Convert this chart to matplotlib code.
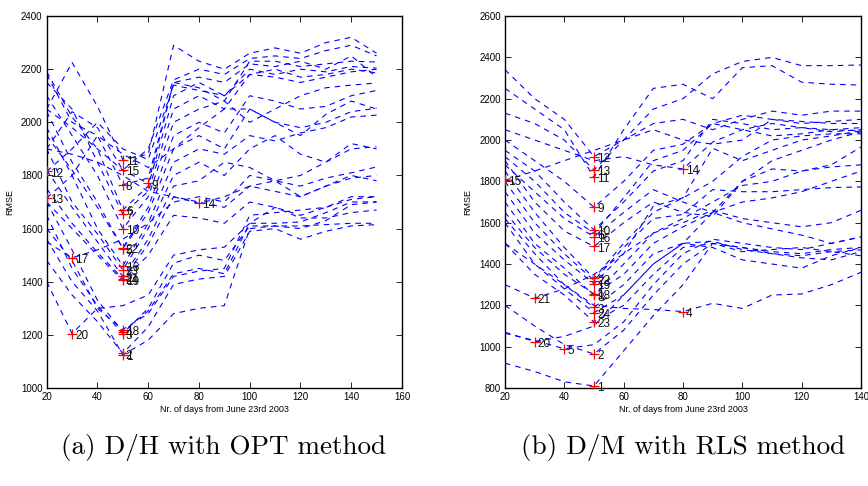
import matplotlib
matplotlib.use("Agg")
import matplotlib.pyplot as plt
import numpy as np

# ---------------- data: panel (a) D/H with OPT method ----------------
days_a = [20, 30, 40, 50, 60, 70, 80, 90, 100, 110, 120, 130, 140, 150]
series_a = {
    1:  [1560, 1400, 1290, 1125, 1180, 1280, 1300, 1310, 1600, 1610, 1610, 1615, 1620, 1620],
    2:  [1480, 1350, 1250, 1130, 1230, 1390, 1410, 1420, 1590, 1600, 1560, 1590, 1610, 1615],
    3:  [1650, 1450, 1310, 1205, 1300, 1470, 1500, 1480, 1610, 1610, 1600, 1630, 1690, 1700],
    4:  [1700, 1520, 1330, 1212, 1290, 1430, 1450, 1430, 1620, 1620, 1625, 1660, 1700, 1701],
    5:  [2040, 1850, 1700, 1525, 1660, 1900, 1950, 1900, 2050, 2000, 1980, 2000, 2040, 2053],
    6:  [2190, 2020, 1900, 1670, 1760, 2100, 2150, 2100, 2200, 2180, 2200, 2190, 2210, 2204],
    7:  [2150, 2050, 1850, 1655, 1740, 2050, 2100, 2050, 2180, 2200, 2170, 2180, 2200, 2186],
    8:  [2180, 2000, 1950, 1765, 1790, 2150, 2130, 2080, 2230, 2230, 2210, 2220, 2230, 2227],
    9:  [2050, 1980, 1900, 1820, 1770, 2150, 2170, 2150, 2220, 2210, 2230, 2200, 2250, 2170],
    10: [2100, 1950, 1800, 1600, 1720, 2000, 2050, 2080, 2000, 2050, 2100, 2130, 2140, 2148],
    11: [2050, 2225, 2060, 1860, 1880, 2290, 2230, 2200, 2260, 2280, 2260, 2300, 2320, 2260],
    12: [1815, 1900, 2000, 1900, 1860, 2140, 2120, 2100, 2180, 2170, 2150, 2170, 2190, 2200],
    13: [1715, 1800, 1950, 1880, 1830, 1900, 1980, 2050, 2050, 2000, 1950, 2030, 2080, 2050],
    14: [1900, 1880, 1850, 1800, 1740, 1720, 1695, 1720, 1760, 1740, 1720, 1760, 1790, 1800],
    15: [1900, 2040, 1980, 1820, 1900, 2160, 2200, 2180, 2240, 2250, 2240, 2270, 2290, 2250],
    16: [1980, 1800, 1600, 1460, 1620, 1850, 1900, 1880, 1950, 1930, 1960, 1980, 2020, 2027],
    17: [1550, 1490, 1520, 1560, 1620, 1700, 1720, 1700, 1800, 1780, 1760, 1790, 1810, 1832],
    18: [1600, 1480, 1300, 1220, 1280, 1420, 1440, 1450, 1650, 1660, 1670, 1680, 1710, 1720],
    19: [1700, 1600, 1500, 1405, 1500, 1650, 1640, 1620, 1700, 1680, 1650, 1680, 1720, 1720],
    20: [1400, 1205, 1300, 1310, 1350, 1500, 1520, 1530, 1620, 1680, 1640, 1640, 1660, 1670],
    21: [1820, 1680, 1550, 1420, 1560, 1760, 1780, 1850, 1830, 1780, 1800, 1850, 1900, 1908],
    22: [1950, 1820, 1680, 1527, 1680, 1950, 2000, 1960, 2100, 2080, 2050, 2060, 2100, 2120],
    23: [1900, 1700, 1580, 1445, 1600, 1800, 1850, 1800, 1900, 1950, 1880, 1850, 1920, 1900],
    24: [1750, 1620, 1510, 1412, 1540, 1720, 1700, 1680, 1760, 1780, 1720, 1760, 1800, 1780],
}

# ---------------- data: panel (b) D/M with RLS method ----------------
days_b = [20, 30, 40, 50, 60, 70, 80, 90, 100, 110, 120, 130, 140]
series_b = {
    1:  [920, 880, 830, 810, 980, 1150, 1300, 1500, 1460, 1470, 1480, 1460, 1440],
    2:  [1200, 1100, 1010, 965, 1080, 1250, 1400, 1500, 1480, 1450, 1440, 1460, 1468],
    3:  [1620, 1450, 1300, 1190, 1300, 1450, 1500, 1650, 1600, 1570, 1540, 1500, 1531],
    4:  [1500, 1400, 1300, 1200, 1185, 1180, 1170, 1210, 1185, 1250, 1255, 1300, 1360],
    5:  [1065, 1030, 990, 1010, 1120, 1300, 1450, 1520, 1500, 1480, 1470, 1500, 1531],
    6:  [1920, 1800, 1650, 1548, 1720, 1900, 1950, 2080, 2050, 2020, 2030, 2050, 2045],
    7:  [1800, 1600, 1450, 1320, 1480, 1620, 1640, 1760, 1750, 1750, 1760, 1770, 1773],
    8:  [1700, 1500, 1380, 1248, 1400, 1550, 1620, 1700, 1780, 1800, 1850, 1870, 1880],
    9:  [2000, 1900, 1800, 1675, 1800, 1950, 1980, 2080, 2120, 2100, 2090, 2080, 2080],
    10: [1950, 1850, 1700, 1565, 1700, 1850, 1900, 2100, 2080, 2050, 2060, 2040, 2050],
    11: [2250, 2150, 2050, 1820, 2050, 2250, 2270, 2200, 2350, 2360, 2280, 2270, 2266],
    12: [2340, 2200, 2100, 1920, 2000, 2150, 2200, 2320, 2380, 2400, 2360, 2360, 2363],
    13: [2130, 2080, 2000, 1855, 2000, 2080, 2100, 2050, 2100, 2140, 2120, 2140, 2140],
    14: [2050, 2000, 1950, 1900, 1920, 1880, 1860, 1990, 2050, 2080, 2060, 2050, 2060],
    15: [1805, 1850, 1900, 1950, 2000, 2050, 2000, 1980, 2000, 2100, 2080, 2090, 2100],
    16: [1880, 1750, 1620, 1532, 1650, 1760, 1700, 1650, 1800, 1860, 1850, 1880, 1966],
    17: [1900, 1700, 1560, 1485, 1600, 1700, 1650, 1630, 1800, 1900, 1950, 2000, 2040],
    18: [1650, 1480, 1350, 1255, 1350, 1500, 1580, 1650, 1700, 1720, 1750, 1800, 1850],
    19: [1750, 1550, 1420, 1305, 1450, 1680, 1720, 1960, 1900, 1950, 2000, 2020, 2045],
    20: [1070, 1025, 1050, 1100, 1250, 1400, 1500, 1480, 1420, 1400, 1380, 1440, 1480],
    21: [1300, 1235, 1280, 1350, 1450, 1550, 1600, 1660, 1620, 1600, 1580, 1600, 1660],
    22: [1850, 1650, 1480, 1330, 1500, 1650, 1720, 1800, 1920, 2000, 2020, 2030, 2030],
    23: [1500, 1350, 1250, 1120, 1200, 1350, 1480, 1500, 1480, 1460, 1450, 1470, 1480],
    24: [1600, 1400, 1280, 1165, 1250, 1400, 1500, 1510, 1470, 1450, 1430, 1420, 1460],
}

xlim_a, ylim_a = (20, 160), (1000, 2400)
xlim_b, ylim_b = (20, 140), (800, 2600)
xlabel = "Nr. of days from June 23rd 2003"
ylabel = "RMSE"
caption_a = "(a) D/H with OPT method"
caption_b = "(b) D/M with RLS method"

tick_font = "Liberation Sans"

fig = plt.figure(figsize=(8.68, 4.86), dpi=100)
ax_a = fig.add_axes([0.0538, 0.2016, 0.4093, 0.7654])
ax_b = fig.add_axes([0.5818, 0.2016, 0.4101, 0.7654])


def draw(ax, days, series, xlim, ylim):
    x = np.array(days)
    for k, vals in series.items():
        v = np.array(vals, dtype=float)
        ax.plot(x, v, color="#0000ff", lw=0.8, ls=(0, (5, 4.5)), zorder=2)
    for k, vals in series.items():
        v = np.array(vals, dtype=float)
        i = int(np.argmin(v))
        ax.plot(x[i], v[i], marker="+", color="red", ms=6.5, mew=0.9, zorder=4)
        ax.annotate(str(k), (x[i], v[i]), xytext=(2.2, -1.5), textcoords="offset points",
                    ha="left", va="center", fontsize=8.5, family=tick_font,
                    color="#111111", zorder=5)
    ax.set_xlim(*xlim)
    ax.set_ylim(*ylim)
    ax.set_xticks(np.arange(xlim[0], xlim[1] + 1, 20))
    ax.set_yticks(np.arange(ylim[0], ylim[1] + 1, 200))
    ax.tick_params(direction="in", length=4, width=0.6, top=True, right=True,
                   labelsize=7, pad=3)
    for lab in ax.get_xticklabels() + ax.get_yticklabels():
        lab.set_family(tick_font)
    for s in ax.spines.values():
        s.set_linewidth(1.0)
    ax.set_xlabel(xlabel, fontsize=6.5, family=tick_font, labelpad=2)
    ax.set_ylabel(ylabel, fontsize=6.5, family=tick_font, labelpad=5)


draw(ax_a, days_a, series_a, xlim_a, ylim_a)
draw(ax_b, days_b, series_b, xlim_b, ylim_b)

fig.text(0.258, 0.08, caption_a, ha="center", va="center", fontsize=19.5,
         family="cmr10")
fig.text(0.787, 0.08, caption_b, ha="center", va="center", fontsize=19.5,
         family="cmr10")

fig.savefig("out.png", dpi=100)
